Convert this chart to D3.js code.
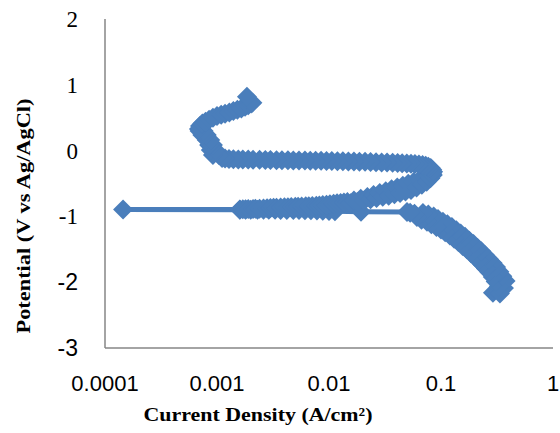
<!DOCTYPE html>
<html>
<head>
<meta charset="utf-8">
<script src="https://cdn.jsdelivr.net/npm/d3@7"></script>
<style>
  html, body { margin: 0; padding: 0; background: #ffffff; }
  svg { display: block; }
</style>
</head>
<body>
<svg id="chart" width="560" height="433"></svg>
<script>
// Potentiodynamic polarization scan, listed in scan order.
// Current density in A/cm², potential in V vs Ag/AgCl.

// Cathodic branch, rising from the most negative potential
const cathodicCurrent = [0.291, 0.336, 0.365, 0.377, 0.329, 0.308, 0.353, 0.332, 0.290, 0.271, 0.310, 0.289, 0.252, 0.234, 0.268, 0.247, 0.216, 0.200, 0.229, 0.212, 0.185, 0.170, 0.195, 0.179, 0.156, 0.143, 0.164, 0.150, 0.131, 0.120, 0.137, 0.125, 0.109, 0.100, 0.114, 0.104, 0.091, 0.082, 0.094, 0.086, 0.075, 0.067, 0.077, 0.069, 0.061, 0.058, 0.053, 0.0497];
const cathodicPotential = [-2.16, -2.17, -2.09, -1.98, -2.06, -1.99, -1.91, -1.84, -1.92, -1.85, -1.77, -1.71, -1.79, -1.73, -1.65, -1.59, -1.67, -1.61, -1.53, -1.48, -1.56, -1.50, -1.42, -1.37, -1.45, -1.39, -1.31, -1.26, -1.34, -1.29, -1.21, -1.16, -1.24, -1.20, -1.12, -1.08, -1.16, -1.12, -1.04, -1.00, -1.08, -1.05, -0.97, -0.95, -1.01, -0.96, -0.945, -0.933];

// Approach to the corrosion potential
const corrosionCurrent = [0.0193, 0.0113, 0.0100, 0.0088, 0.0078, 0.0069, 0.0061, 0.0054, 0.0048, 0.0042, 0.0037, 0.0033, 0.0029, 0.0026, 0.0023, 0.0020, 0.0018, 0.0016, 0.000145];
const corrosionPotential = [-0.93, -0.92, -0.917, -0.914, -0.911, -0.908, -0.906, -0.904, -0.903, -0.902, -0.901, -0.90, -0.90, -0.90, -0.90, -0.90, -0.90, -0.90, -0.895];

// Anodic branch up to the active peak
const anodicCurrent = [0.0016, 0.0017, 0.0018, 0.0019, 0.0021, 0.0022, 0.0024, 0.0026, 0.0028, 0.003, 0.0032, 0.0034, 0.0037, 0.004, 0.0043, 0.0046, 0.005, 0.0053, 0.0057, 0.0062, 0.0066, 0.0071, 0.0077, 0.0082, 0.0088, 0.0095, 0.0102, 0.011, 0.0118, 0.0127, 0.0136, 0.0146, 0.0156, 0.0167, 0.0179, 0.0192, 0.0206, 0.022, 0.0235, 0.025, 0.0266, 0.0284, 0.0302, 0.0321, 0.0341, 0.0362, 0.0384, 0.0407, 0.0431, 0.0456, 0.0482, 0.051, 0.054, 0.057, 0.0605, 0.064, 0.0675, 0.071, 0.0745, 0.0775, 0.0805, 0.083, 0.0845, 0.085];
const anodicPotential = [-0.895, -0.893, -0.891, -0.889, -0.887, -0.885, -0.882, -0.879, -0.876, -0.873, -0.87, -0.868, -0.865, -0.862, -0.86, -0.857, -0.855, -0.852, -0.85, -0.847, -0.845, -0.842, -0.838, -0.833, -0.828, -0.822, -0.816, -0.809, -0.802, -0.795, -0.788, -0.78, -0.80, -0.758, -0.78, -0.732, -0.76, -0.704, -0.74, -0.674, -0.72, -0.644, -0.70, -0.616, -0.685, -0.588, -0.665, -0.56, -0.645, -0.534, -0.62, -0.505, -0.60, -0.476, -0.56, -0.447, -0.52, -0.416, -0.475, -0.386, -0.42, -0.352, -0.37, -0.32];

// Passivation: current falls back while the potential keeps rising
const passiveCurrent = [0.0835, 0.081, 0.077, 0.073, 0.0685, 0.0635, 0.0585, 0.054, 0.0495, 0.045, 0.041, 0.037, 0.033, 0.0295, 0.0263, 0.0235, 0.021, 0.0187, 0.0167, 0.0149, 0.0133, 0.0119, 0.0106, 0.0095, 0.0085, 0.0076, 0.0068, 0.0061, 0.0054, 0.0048, 0.0043, 0.0038, 0.0034, 0.003, 0.0027, 0.0024, 0.0021, 0.0019, 0.0017, 0.00155, 0.0014, 0.00128, 0.00118];
const passivePotential = [-0.29, -0.265, -0.245, -0.23, -0.218, -0.21, -0.204, -0.2, -0.197, -0.193, -0.189, -0.186, -0.182, -0.179, -0.176, -0.173, -0.171, -0.168, -0.166, -0.164, -0.162, -0.16, -0.158, -0.157, -0.155, -0.154, -0.153, -0.151, -0.15, -0.149, -0.147, -0.146, -0.145, -0.143, -0.142, -0.14, -0.139, -0.137, -0.136, -0.134, -0.131, -0.127, -0.12];

// Transpassive end of the scan
const transpassiveCurrent = [0.00111, 0.00104, 0.00092, 0.00088, 0.00097, 0.00092, 0.00085, 0.00081, 0.00087, 0.00081, 0.00074, 0.0007, 0.00076, 0.00069, 0.000705, 0.00074, 0.00079, 0.00085, 0.00092, 0.001, 0.00109, 0.00118, 0.00129, 0.0014, 0.00152, 0.00165, 0.00178, 0.0019, 0.00202, 0.00207, 0.00185];
const transpassivePotential = [-0.112, -0.067, -0.067, 0.009, 0.009, 0.085, 0.085, 0.161, 0.161, 0.237, 0.237, 0.298, 0.298, 0.33, 0.374, 0.41, 0.44, 0.47, 0.50, 0.525, 0.545, 0.56, 0.58, 0.60, 0.62, 0.64, 0.665, 0.69, 0.715, 0.728, 0.82];

// Axis ticks
const xTickValues = [0.0001, 0.001, 0.01, 0.1, 1];
const xTickLabels = ["0.0001", "0.001", "0.01", "0.1", "1"];
const yTickValues = [2, 1, 0, -1, -2, -3];
const yTickLabels = ["2", "1", "0", "-1", "-2", "-3"];

const xTitle = "Current Density (A/cm²)";
const yTitle = "Potential (V vs Ag/AgCl)";

const currentDensity = [].concat(cathodicCurrent, corrosionCurrent, anodicCurrent, passiveCurrent, transpassiveCurrent);
const potential = [].concat(cathodicPotential, corrosionPotential, anodicPotential, passivePotential, transpassivePotential);
const points = currentDensity.map((c, i) => ({ c, e: potential[i] }));

const svg = d3.select("#chart");
const plot = { left: 105, right: 553, top: 19, bottom: 348 };

const x = d3.scaleLog().domain([0.0001, 1]).range([plot.left, plot.right]);
const y = d3.scaleLinear().domain([-3, 2]).range([plot.bottom, plot.top]);

const blue = "#4a7ebb";
const axisGrey = "#868686";

// Axis lines
svg.append("line")
  .attr("x1", plot.left).attr("x2", plot.left)
  .attr("y1", plot.top).attr("y2", plot.bottom)
  .attr("stroke", axisGrey).attr("stroke-width", 1.5);
svg.append("line")
  .attr("x1", plot.left).attr("x2", plot.right)
  .attr("y1", plot.bottom).attr("y2", plot.bottom)
  .attr("stroke", axisGrey).attr("stroke-width", 1.5);

// Tick labels
svg.append("g").selectAll("text")
  .data(xTickValues)
  .join("text")
  .attr("x", d => x(d))
  .attr("y", 391)
  .attr("text-anchor", "middle")
  .attr("font-family", "'Liberation Sans', Arial, sans-serif")
  .attr("font-size", 22)
  .attr("fill", "#000")
  .text((d, i) => xTickLabels[i]);

svg.append("g").selectAll("text")
  .data(yTickValues)
  .join("text")
  .attr("x", 78)
  .attr("y", d => y(d))
  .attr("dy", "0.35em")
  .attr("text-anchor", "end")
  .attr("font-family", d => d >= -1 ? "'Liberation Serif', serif" : "'Liberation Sans', sans-serif")
  .attr("font-size", 23)
  .attr("fill", "#000")
  .text((d, i) => yTickLabels[i]);

// Axis titles
svg.append("text")
  .attr("x", 258).attr("y", 421)
  .attr("text-anchor", "middle")
  .attr("font-family", "'Liberation Serif', serif")
  .attr("font-weight", "bold")
  .attr("font-size", 19)
  .attr("textLength", 229)
  .attr("lengthAdjust", "spacingAndGlyphs")
  .text(xTitle);

svg.append("text")
  .attr("transform", "translate(30,216) rotate(-90)")
  .attr("text-anchor", "middle")
  .attr("font-family", "'Liberation Serif', serif")
  .attr("font-weight", "bold")
  .attr("font-size", 19)
  .attr("textLength", 235)
  .attr("lengthAdjust", "spacingAndGlyphs")
  .text(yTitle);

// Connecting line
const line = d3.line().x(d => x(d.c)).y(d => y(d.e));
svg.append("path")
  .datum(points)
  .attr("d", line)
  .attr("fill", "none")
  .attr("stroke", blue)
  .attr("stroke-width", 5)
  .attr("stroke-linejoin", "round");

// Diamond markers
const r = 10;
const diamond = `M0,${-r}L${r},0L0,${r}L${-r},0Z`;
svg.append("g").selectAll("path")
  .data(points)
  .join("path")
  .attr("transform", d => `translate(${x(d.c)},${y(d.e)})`)
  .attr("d", diamond)
  .attr("fill", blue);
</script>
</body>
</html>
